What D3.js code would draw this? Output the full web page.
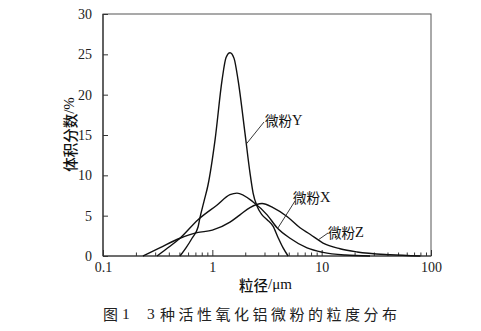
<!DOCTYPE html>
<html>
<head>
<meta charset="utf-8">
<script src="https://cdn.jsdelivr.net/npm/d3@7"></script>
<style>
  html, body { margin: 0; padding: 0; background: #fff; }
  svg { display: block; }
  .tick text { font-family: "Liberation Serif", "Times New Roman", serif; font-size: 14px; fill: #222; }
</style>
</head>
<body>
<svg id="chart" width="481" height="331"></svg>
<script>
// Particle size (µm) and volume fraction (%) for each powder
const sizeY = [0.506, 0.574, 0.652, 0.74, 0.772, 0.84, 0.913, 1.059, 1.227, 1.335, 1.452, 1.58, 1.72, 1.99, 2.21, 2.36, 2.56, 2.85, 3.17, 3.59, 3.99, 4.44, 4.93];
const fracY = [0, 1.0, 2.2, 3.6, 4.8, 6.8, 8.8, 14.4, 21.8, 24.6, 25.2, 24.5, 21.8, 15.2, 10.3, 7.8, 6.2, 5.1, 4.5, 3.7, 2.3, 1.0, 0];

const sizeX = [0.312, 0.41, 0.506, 0.74, 1.10, 1.45, 1.68, 2.36, 3.17, 3.91, 5.14, 7.35, 10.3, 16.4, 27.7];
const fracX = [0, 1.2, 2.2, 4.5, 6.3, 7.6, 7.8, 6.7, 5.1, 3.5, 2.2, 1.0, 0.45, 0.12, 0];

const sizeZ = [0.232, 0.33, 0.506, 0.724, 1.0, 1.45, 1.79, 2.21, 2.85, 3.59, 4.82, 6.34, 7.83, 10.3, 14.7, 21.1, 42.3, 80];
const fracZ = [0, 1.0, 2.2, 2.9, 3.2, 4.2, 5.1, 6.0, 6.5, 6.0, 4.9, 3.5, 2.7, 1.6, 0.9, 0.5, 0.15, 0];

const xTicks = [0.1, 1, 10, 100];
const xTickLabels = ["0.1", "1", "10", "100"];
const yTicks = [0, 5, 10, 15, 20, 25, 30];

const series = [
  { name: "微粉Y", size: sizeY, frac: fracY },
  { name: "微粉X", size: sizeX, frac: fracX },
  { name: "微粉Z", size: sizeZ, frac: fracZ }
];

const svg = d3.select("#chart");
const plotL = 103, plotR = 431, plotT = 14, plotB = 256;

const x = d3.scaleLog().domain([0.1, 100]).range([plotL, plotR]);
const y = d3.scaleLinear().domain([0, 30]).range([plotB, plotT]);

// Minor ticks 2..9 in each decade
const minor = [];
[0.1, 1, 10].forEach(d => { for (let k = 2; k <= 9; k++) minor.push(d * k); });

const axisColor = "#333";

// frame
svg.append("rect")
  .attr("x", plotL).attr("y", plotT)
  .attr("width", plotR - plotL).attr("height", plotB - plotT)
  .attr("fill", "none").attr("stroke", "#555").attr("stroke-width", 1);

// x axis: inward ticks
const gx = svg.append("g").attr("transform", `translate(0,${plotB})`);
gx.call(d3.axisBottom(x).tickValues(minor).tickSize(-3.5).tickFormat(""))
  .call(g => g.select(".domain").remove());
gx.append("g").call(d3.axisBottom(x).tickValues(xTicks).tickSize(-6)
    .tickFormat((d, i) => xTickLabels[i]).tickPadding(10))
  .call(g => g.select(".domain").remove());
gx.selectAll("line").attr("stroke", axisColor);
gx.selectAll("text").attr("dy", "0.75em").attr("y", 5);
svg.append("line").attr("x1", plotL).attr("x2", plotR).attr("y1", plotB).attr("y2", plotB)
  .attr("stroke", axisColor).attr("stroke-width", 1.2);

// y axis: inward ticks
const gy = svg.append("g").attr("transform", `translate(${plotL},0)`);
gy.call(d3.axisLeft(y).tickValues(yTicks).tickSize(-5).tickPadding(11))
  .call(g => g.select(".domain").remove());
gy.selectAll("line").attr("stroke", axisColor);
svg.append("line").attr("x1", plotL).attr("x2", plotL).attr("y1", plotT).attr("y2", plotB)
  .attr("stroke", axisColor).attr("stroke-width", 1.2);

// distribution curves
const line = d3.line()
  .x(d => x(d[0]))
  .y(d => y(d[1]))
  .curve(d3.curveMonotoneX);

svg.append("g").selectAll("path")
  .data(series)
  .join("path")
  .attr("d", s => line(s.size.map((v, i) => [v, s.frac[i]])))
  .attr("fill", "none")
  .attr("stroke", "#111")
  .attr("stroke-width", 1.4);

// curve labels with leader lines
const labels = [
  { text: "微粉Y", tx: 265, ty: 120, from: [264, 122], to: [2.05, 13.9] },
  { text: "微粉X", tx: 293, ty: 197, from: [295, 201], to: [3.95, 3.4] },
  { text: "微粉Z", tx: 328, ty: 232, from: [328, 233], to: [9.3, 2.0] }
];
const lab = svg.append("g");
labels.forEach(l => {
  lab.append("line")
    .attr("x1", l.from[0]).attr("y1", l.from[1])
    .attr("x2", x(l.to[0])).attr("y2", y(l.to[1]))
    .attr("stroke", "#222").attr("stroke-width", 0.9);
  const t = lab.append("text")
    .attr("x", l.tx).attr("y", l.ty)
    .attr("dominant-baseline", "central")
    .attr("fill", "#111");
  t.append("tspan").text(l.text.slice(0, 2))
    .attr("font-family", "'Noto Sans CJK SC', sans-serif").attr("font-size", 13.5);
  t.append("tspan").text(l.text.slice(2))
    .attr("font-family", "'Liberation Serif', serif").attr("font-size", 14.5);
});

// axis titles
const yt = svg.append("text")
  .attr("transform", `translate(69,134.5) rotate(-90)`)
  .attr("text-anchor", "middle")
  .attr("dominant-baseline", "central")
  .attr("fill", "#111");
yt.append("tspan").text("体积分数").attr("font-family", "'Noto Sans CJK SC', sans-serif")
  .attr("font-size", 14.5).attr("font-weight", 500);
yt.append("tspan").text("/%").attr("font-family", "'Liberation Serif', serif").attr("font-size", 15);

const xt = svg.append("text")
  .attr("x", 265.5).attr("y", 283.5)
  .attr("text-anchor", "middle")
  .attr("dominant-baseline", "central")
  .attr("fill", "#111");
xt.append("tspan").text("粒径").attr("font-family", "'Noto Sans CJK SC', sans-serif")
  .attr("font-size", 14.5).attr("font-weight", 500);
xt.append("tspan").text("/μm").attr("font-family", "'Liberation Serif', serif").attr("font-size", 15);

// figure caption
const cap = svg.append("g").attr("fill", "#222");
cap.append("text").attr("x", 103).attr("y", 313.5).attr("dominant-baseline", "central")
  .attr("font-family", "'Noto Sans CJK SC', sans-serif").attr("font-size", 15)
  .text("图");
cap.append("text").attr("x", 122).attr("y", 313.5).attr("dominant-baseline", "central")
  .attr("font-family", "'Liberation Serif', serif").attr("font-size", 15.5)
  .text("1");
cap.append("text").attr("x", 147).attr("y", 313.5).attr("dominant-baseline", "central")
  .attr("font-family", "'Liberation Serif', serif").attr("font-size", 15.5)
  .text("3");
cap.append("text").attr("x", 160).attr("y", 313.5).attr("dominant-baseline", "central")
  .attr("font-family", "'Noto Sans CJK SC', sans-serif").attr("font-size", 15)
  .attr("textLength", 237).attr("lengthAdjust", "spacing")
  .text("种活性氧化铝微粉的粒度分布");
</script>
</body>
</html>
